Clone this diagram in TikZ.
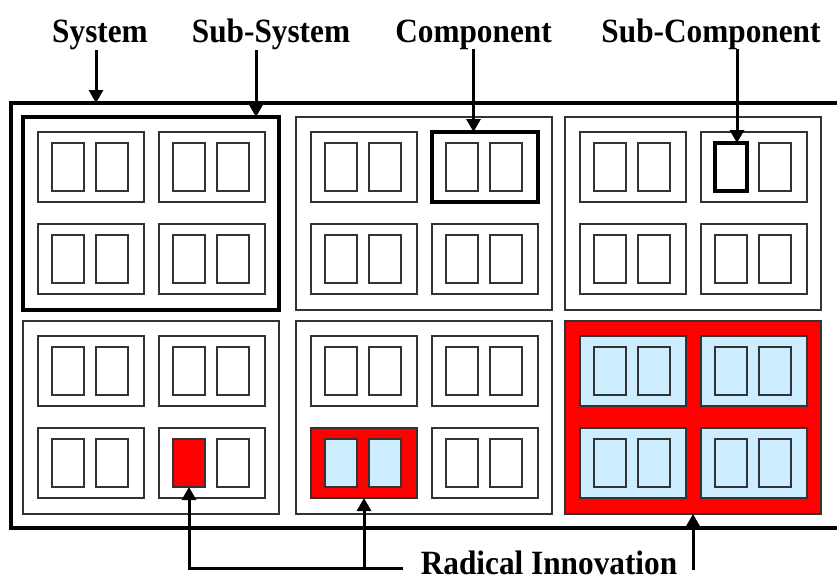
\documentclass[tikz,border=0pt]{standalone}
\usepackage{fontspec}
\newfontfamily\lblfont{Liberation Serif}[FakeStretch=0.92]
\usetikzlibrary{arrows.meta}
\definecolor{paleblue}{RGB}{204,236,255}
\definecolor{radred}{RGB}{255,0,0}
\begin{document}
\begin{tikzpicture}[x=1pt,y=-1pt,
  box/.style={draw=black!80, line width=1.2pt, rectangle, inner sep=0pt, outer sep=0pt,
              anchor=north west, fill=white},
  sysbox/.style={draw=black, line width=3.2pt, rectangle, inner sep=0pt, outer sep=0pt,
                 anchor=north west, minimum width=860pt, minimum height=425pt},
  ssbox/.style={box, minimum width=256pt, minimum height=193pt},
  cbox/.style={box, minimum width=106pt, minimum height=70pt},
  kbox/.style={box, minimum width=32pt, minimum height=48pt},
  focus/.style={draw=black, line width=3.2pt},
  radical/.style={fill=radred},
  inside/.style={fill=paleblue},
  % per-element looks, looked up by name
  look/.style={look #1/.try},
  look S00/.style={focus},
  look C1010/.style={focus},
  look K20100/.style={focus},
  look S21/.style={radical},
  look C21/.style={inside},
  look K21/.style={inside},
  look C1101/.style={radical},
  look K1101/.style={inside},
  look K01110/.style={radical},
  lbl/.style={font=\lblfont\bfseries\fontsize{34}{40}\selectfont, inner sep=0pt, anchor=base},
  arr/.style={draw=black, line width=3pt, -{Triangle[width=14pt,length=13pt]}}
]
\clip (0,0) rectangle (837,581);

% the whole system
\node[sysbox] (sys) at (11,103) {};

% sub-systems, components and sub-components
\foreach \c/\cx in {0/23, 1/296, 2/565} {
  \foreach \r/\ry in {0/117, 1/321} {
    \node[ssbox, look/.expanded={S\c\r}] (S\c\r) at (\cx,\ry) {};
    \foreach \i/\dx in {0/15, 1/136} {
      \foreach \j/\dy in {0/15, 1/107} {
        \node[cbox, look/.expanded={C\c\r}, look/.expanded={C\c\r\i\j}]
          (C\c\r\i\j) at ([xshift=\dx pt, yshift=-\dy pt]S\c\r.north west) {};
        \foreach \k/\ex in {0/14, 1/58} {
          \node[kbox, look/.expanded={K\c\r}, look/.expanded={K\c\r\i\j},
                look/.expanded={K\c\r\i\j\k}]
            (K\c\r\i\j\k) at ([xshift=\ex pt, yshift=-11pt]C\c\r\i\j.north west) {};
        }
      }
    }
  }
}

% labels
\node[lbl] (lSys) at (100,42) {System};
\node[lbl] (lSS) at (271,42) {Sub-System};
\node[lbl] (lC) at (473.5,42) {Component};
\node[lbl] (lSC) at (711,42) {Sub-Component};
\node[lbl] (lRI) at (549,574) {Radical Innovation};

% pointers from the level labels
\draw[arr] ([xshift=-4pt]lSys.south) -- ([xshift=-4pt]lSys.south |- sys.north);
\draw[arr] ([xshift=-15pt]lSS.south) -- ([xshift=-15pt]lSS.south |- S00.north);
\draw[arr] (lC.south) -- (lC.south |- C1010.north);
\draw[arr] ([xshift=26pt]lSC.south) -- ([xshift=26pt]lSC.south |- K20100.north);

% radical innovation pointers
\coordinate (riL) at ([xshift=-18pt,yshift=-6.5pt]lRI.west);
\coordinate (riR) at ([xshift=15pt,yshift=-6.5pt]lRI.east);
\draw[arr] (riL) -| (K01110.south);
\draw[arr] (riL -| C1101.south) -- (C1101.south);
\draw[arr] (riR) -| (S21.south);
\end{tikzpicture}
\end{document}
